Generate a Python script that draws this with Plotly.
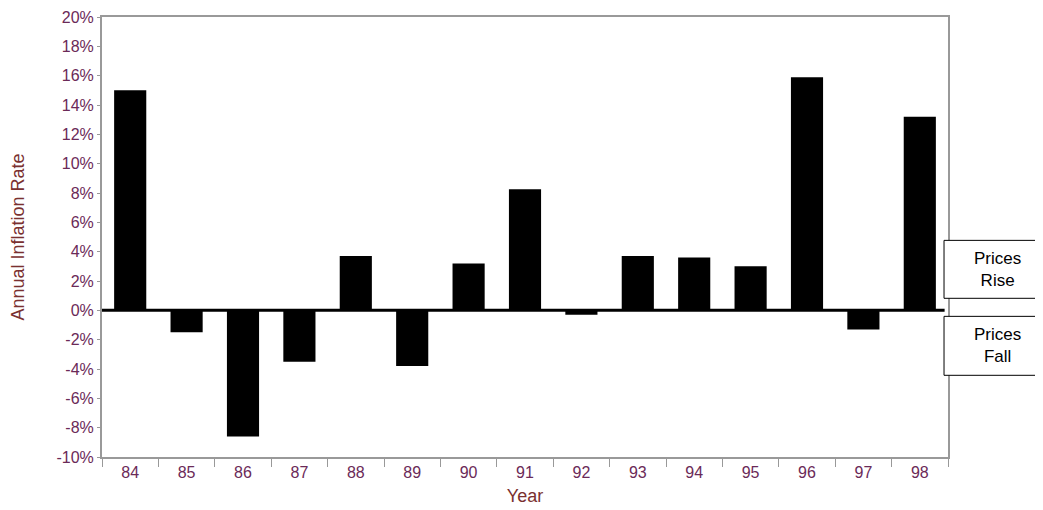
import plotly.graph_objects as go

years = ["84", "85", "86", "87", "88", "89", "90", "91", "92", "93", "94", "95", "96", "97", "98"]
inflation = [15.0, -1.5, -8.6, -3.5, 3.7, -3.8, 3.2, 8.25, -0.3, 3.7, 3.6, 3.0, 15.9, -1.3, 13.2]
ytick_vals = list(range(-10, 21, 2))
ytick_text = [f"{v}%" for v in ytick_vals]

label_color = "#6b2a58"
title_color = "#7a3030"
font_family = "Liberation Sans, Arial, sans-serif"

fig = go.Figure()
fig.add_trace(go.Bar(x=years, y=inflation, marker=dict(color="black", line=dict(width=0)), width=0.57))

fig.update_layout(
    width=1035, height=502,
    margin=dict(l=94, r=95, t=9, b=53, autoexpand=False),
    plot_bgcolor="white", paper_bgcolor="white",
    showlegend=False,
    font=dict(family=font_family, size=16, color=label_color),
    xaxis=dict(
        type="category", tickson="boundaries", ticks="outside", ticklen=8, tickcolor="#999999",
        showline=True, linecolor="#999999", linewidth=2, mirror=True, showgrid=False,
        title=dict(text="Year", font=dict(size=18, color=title_color), standoff=9),
        tickfont=dict(size=16, color=label_color),
    ),
    yaxis=dict(
        range=[-10, 20], tickvals=ytick_vals, ticktext=ytick_text, ticks="outside", ticklen=3,
        tickcolor="#999999", showline=True, linecolor="#999999", linewidth=2, mirror=True,
        showgrid=False, zeroline=False,
        title=dict(text="Annual Inflation Rate", font=dict(size=18, color=title_color), standoff=28),
        tickfont=dict(size=16, color=label_color),
    ),
)

fig.add_shape(type="line", xref="paper", yref="y", x0=0, x1=0.996, y0=0, y1=0,
              line=dict(color="black", width=3))

for txt, yv, y0, y1 in [("Prices<br>Rise", 2.8, 0.82, 4.77), ("Prices<br>Fall", -2.4, -4.43, -0.41)]:
    fig.add_shape(type="rect", xref="paper", yref="y", x0=0.9953, x1=1.2, y0=y0, y1=y1,
                  line=dict(color="black", width=1), fillcolor="white", layer="above")
    fig.add_annotation(xref="paper", yref="y", x=1.058, y=yv, xanchor="center", yanchor="middle",
                       text=txt, showarrow=False, align="center",
                       font=dict(size=17, color="black", family=font_family))

fig.write_html("out.html")
